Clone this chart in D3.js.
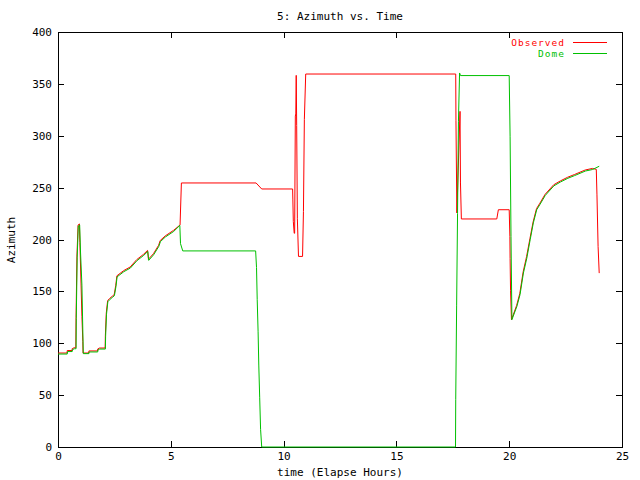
<!DOCTYPE html>
<html><head><meta charset="utf-8">
<script src="https://cdn.jsdelivr.net/npm/d3@7"></script>
<style>
body{margin:0;background:#fff;}
text{font-family:"DejaVu Sans Mono",monospace;font-size:11px;}
</style></head>
<body><svg id="c" width="640" height="480"></svg>
<script>
const xTicks = [0, 5, 10, 15, 20, 25];
const yTicks = [0, 50, 100, 150, 200, 250, 300, 350, 400];
const seriesNames = ["Observed", "Dome"];

const timeObserved = [
  0.00, 0.40, 0.41, 0.62, 0.63, 0.72, 0.79, 0.80, 0.84, 0.89,
  0.95, 0.97, 1.02, 1.06, 1.10, 1.11, 1.36, 1.37, 1.75, 1.76,
  1.84, 2.09, 2.10, 2.14, 2.20, 2.28, 2.42, 2.49, 2.56, 2.61,
  2.91, 3.20, 3.49, 3.79, 3.97, 4.01, 4.23, 4.46, 4.53, 4.75,
  5.12, 5.41, 5.47, 8.78, 9.03, 10.40, 10.41, 10.43, 10.47, 10.49,
  10.52, 10.54, 10.56, 10.58, 10.61, 10.66, 10.84, 10.88, 10.92, 10.98,
  17.63, 17.64, 17.68, 17.82, 17.84, 17.88, 19.45, 19.52, 20.00, 20.03,
  20.04, 20.06, 20.10, 20.33, 20.47, 20.62, 20.77, 20.92, 21.06, 21.21,
  21.36, 21.59, 21.97, 22.27, 22.59, 22.89, 23.37, 23.69, 23.86, 23.89,
  23.94, 23.99
];
const azObserved = [
  90.6, 90.6, 93.0, 93.0, 94.8, 95.7, 95.7, 125, 184, 214,
  215, 197, 158, 126, 101.8, 90.6, 90.6, 92.6, 92.6, 94.5,
  95.4, 95.4, 107.6, 129, 141, 143, 145.6, 146.8, 155.8, 165,
  170, 173.5, 180.6, 185.7, 189.5, 181, 186.3, 194.4, 199, 203.4,
  208.8, 214, 254.5, 254.5, 248.7, 248.7, 239, 217.5, 206, 206,
  319, 321, 358.2, 310, 220, 183.7, 183.7, 227, 315.5, 359.5,
  359.5, 314.5, 225.6, 323.5, 254.5, 219.8, 219.8, 228.7, 228.7, 202.7,
  181.5, 150.6, 122.7, 136.5, 148, 169, 183.5, 201, 217, 229.7,
  235, 243.5, 252.7, 256.5, 260, 262.6, 267, 268.5, 267.6, 243,
  193.4, 167.6
];

const timeDome = [
  0.00, 0.41, 0.42, 0.63, 0.64, 0.73, 0.80, 0.81, 0.85, 0.90,
  0.96, 1.00, 1.06, 1.12, 1.37, 1.38, 1.76, 1.77, 1.85, 2.10,
  2.11, 2.15, 2.21, 2.29, 2.43, 2.50, 2.57, 2.62, 2.92, 3.21,
  3.50, 3.80, 3.98, 4.02, 4.24, 4.47, 4.54, 4.76, 5.13, 5.40,
  5.43, 5.53, 8.76, 8.80, 8.83, 8.87, 8.90, 8.94, 8.98, 9.03,
  17.62, 17.63, 17.67, 17.71, 17.75, 17.80, 17.84, 20.00, 20.04, 20.08,
  20.12, 20.34, 20.48, 20.63, 20.78, 20.93, 21.07, 21.22, 21.37, 21.60,
  21.98, 22.28, 22.60, 22.90, 23.38, 23.70, 23.99
];
const azDome = [
  89.6, 89.6, 92.0, 92.0, 93.8, 94.7, 94.7, 124, 183, 213,
  214, 187, 156, 90, 90, 91.6, 91.6, 93.5, 94.4, 94.4,
  106.6, 128, 140, 142, 144.6, 145.8, 154.8, 164, 169, 172.5,
  179.6, 184.7, 188.5, 179.9, 185.3, 193.4, 198, 202.4, 207.8, 213.6,
  196, 189, 189, 173, 142, 111, 79, 48, 17, 0,
  0, 45.6, 136, 225, 314, 360.5, 358, 358, 299, 203,
  122.7, 135.5, 146.8, 167.7, 182, 199.8, 216, 228.7, 234, 242.5,
  251.7, 255.5, 259, 261.6, 266, 267.5, 270.6
];

const colors = ["#ff0000", "#00c000"];
const svg = d3.select("#c");
const L = 58, R = 622, T = 32, B = 447;
const x = d3.scaleLinear().domain([0, 25]).range([L, R]);
const y = d3.scaleLinear().domain([0, 400]).range([B, T]);

function styleAxis(g) {
  g.selectAll("path.domain").remove();
  g.selectAll("line").attr("stroke", "#000").attr("shape-rendering", "crispEdges");
  g.selectAll("text").attr("fill", "#000").style("font-family", "DejaVu Sans Mono, monospace").style("font-size", "11px");
}
const fmt = d3.format("d");
svg.append("g").attr("transform", `translate(0,${B})`)
  .call(d3.axisBottom(x).tickValues(xTicks).tickFormat(fmt).tickSizeInner(-6).tickSizeOuter(0).tickPadding(5)).call(styleAxis);
svg.append("g").attr("transform", `translate(0,${T})`)
  .call(d3.axisTop(x).tickValues(xTicks).tickFormat("").tickSizeInner(-6).tickSizeOuter(0)).call(styleAxis);
svg.append("g").attr("transform", `translate(${L},0)`)
  .call(d3.axisLeft(y).tickValues(yTicks).tickFormat(fmt).tickSizeInner(-6).tickSizeOuter(0).tickPadding(6)).call(styleAxis);
svg.append("g").attr("transform", `translate(${R},0)`)
  .call(d3.axisRight(y).tickValues(yTicks).tickFormat("").tickSizeInner(-6).tickSizeOuter(0)).call(styleAxis);

svg.append("rect").attr("x", L).attr("y", T).attr("width", R - L).attr("height", B - T)
  .attr("fill", "none").attr("stroke", "#000").attr("shape-rendering", "crispEdges");

const line = d3.line().x(d => x(d[0])).y(d => y(d[1]));
const obs = timeObserved.map((t, i) => [t, azObserved[i]]);
const dome = timeDome.map((t, i) => [t, azDome[i]]);
[obs, dome].forEach((data, i) => {
  svg.append("path").datum(data).attr("d", line)
    .attr("fill", "none").attr("stroke", colors[i]).attr("stroke-width", 1);
});

// legend
seriesNames.forEach((name, i) => {
  const yy = 42.5 + i * 11;
  svg.append("text").attr("x", 565).attr("y", yy + 3.5).attr("text-anchor", "end")
    .attr("fill", colors[i]).style("font-size", "9.5px").style("letter-spacing", "1px").text(name);
  svg.append("line").attr("x1", 573).attr("x2", 607).attr("y1", yy).attr("y2", yy)
    .attr("stroke", colors[i]).attr("stroke-width", 1).attr("shape-rendering", "crispEdges");
});

svg.append("text").attr("x", 340).attr("y", 20).attr("text-anchor", "middle").text("5: Azimuth vs. Time");
svg.append("text").attr("x", 340).attr("y", 476).attr("text-anchor", "middle").text("time (Elapse Hours)");
svg.append("text").attr("transform", "translate(15,240) rotate(-90)").attr("text-anchor", "middle").text("Azimuth");
</script></body></html>
